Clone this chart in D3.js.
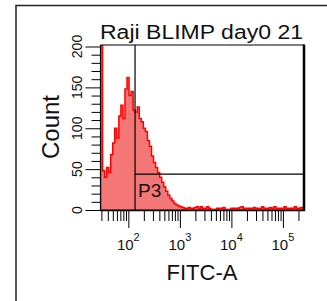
<!DOCTYPE html>
<html>
<head>
<meta charset="utf-8">
<script src="https://cdn.jsdelivr.net/npm/d3@7"></script>
<style>
  body { margin: 0; background: #fff; }
  svg text { font-family: "Liberation Sans", Arial, sans-serif; fill: #111; }
</style>
</head>
<body>
<svg id="chart" width="327" height="301"></svg>
<script>
// histogram counts per log bin (100 bins over the display range), first bin is off scale
const counts = [
  250, 48, 40, 52, 46, 68, 82, 100, 88, 115,
  128, 112, 148, 162, 140, 145, 122, 120, 126, 112,
  108, 100, 96, 85, 78, 66, 58, 52, 46, 40,
  34, 28, 23, 18, 14, 11, 8, 6, 5, 4,
  3, 2, 2, 3, 2, 2, 3, 4, 2, 4,
  2, 2, 4, 2, 1, 0, 1, 2, 2, 2,
  3, 1, 0, 1, 2, 2, 2, 2, 3, 4,
  2, 2, 2, 2, 2, 3, 2, 2, 2, 4,
  2, 2, 2, 3, 2, 4, 2, 2, 2, 2,
  4, 2, 2, 2, 2, 4, 2, 2, 3, 2
]
const xMin = Math.pow(10, 1.46)
const xMax = 262144
const xMajor = [100, 1000, 10000, 100000]
const xMinor = [30, 40, 50, 60, 70, 80, 90,
  200, 300, 400, 500, 600, 700, 800, 900,
  2000, 3000, 4000, 5000, 6000, 7000, 8000, 9000,
  20000, 30000, 40000, 50000, 60000, 70000, 80000, 90000, 200000]
const xLabelExp = ['2', '3', '4', '5']
const yMajor = [0, 50, 100, 150, 200]
const yMinor = [10, 20, 30, 40, 60, 70, 80, 90, 110, 120, 130, 140, 160, 170, 180, 190]
const title = 'Raji BLIMP day0 21'
const xTitle = 'FITC-A'
const yTitle = 'Count'
const gateName = 'P3'
const gateX = 135      // FITC-A value of the vertical marker
const gateY = 44       // count level of the P3 gate

const plot = { left: 100.5, right: 304, top: 45, bottom: 211 }

const svg = d3.select('#chart')

const xScale = d3.scaleLog().domain([xMin, xMax]).range([plot.left, plot.right + 0.5])
const yScale = d3.scaleLinear().domain([0, 200]).range([210, 46.5])

// outer frame of the panel
svg.append('path')
  .attr('d', 'M16,310 L16,5.5 L330,5.5')
  .attr('fill', 'none')
  .attr('stroke', '#222')
  .attr('stroke-width', 1.5)

svg.append('clipPath').attr('id', 'plotClip')
  .append('rect')
  .attr('x', plot.left).attr('y', plot.top)
  .attr('width', plot.right - plot.left).attr('height', plot.bottom - plot.top)

// bin edges in log space
const lo = Math.log10(xMin), hi = Math.log10(xMax)
const step = (hi - lo) / counts.length
const pts = []
counts.forEach((c, i) => {
  pts.push([Math.pow(10, lo + i * step), c])
  pts.push([Math.pow(10, lo + (i + 1) * step), c])
})

const area = d3.area()
  .x(d => xScale(d[0]))
  .y0(yScale(0))
  .y1(d => yScale(d[1]))

svg.append('g').attr('clip-path', 'url(#plotClip)')
  .append('path')
  .datum(pts)
  .attr('d', area)
  .attr('fill', 'rgb(245,118,118)')
  .attr('stroke', '#ff0000')
  .attr('stroke-width', 1.5)
  .attr('stroke-linejoin', 'miter')

// axes
const tickStyle = g => {
  g.select('.domain').remove()
  g.selectAll('line').attr('stroke', '#000').attr('stroke-width', 1)
}
svg.append('g')
  .attr('transform', `translate(${plot.left},0)`)
  .call(d3.axisLeft(yScale).tickValues(yMinor).tickSize(9).tickFormat(''))
  .call(tickStyle)
svg.append('g')
  .attr('transform', `translate(${plot.left},0)`)
  .call(d3.axisLeft(yScale).tickValues(yMajor).tickSize(15).tickFormat(''))
  .call(tickStyle)
svg.append('g')
  .attr('transform', `translate(0,${plot.bottom})`)
  .call(d3.axisBottom(xScale).tickValues(xMinor).tickSize(10).tickFormat(''))
  .call(tickStyle)
svg.append('g')
  .attr('transform', `translate(0,${plot.bottom})`)
  .call(d3.axisBottom(xScale).tickValues(xMajor).tickSize(17).tickFormat(''))
  .call(tickStyle)

// plot frame
svg.append('line').attr('x1', plot.left).attr('x2', plot.right).attr('y1', plot.top).attr('y2', plot.top)
  .attr('stroke', '#000').attr('stroke-width', 1.2)
svg.append('line').attr('x1', plot.left).attr('x2', plot.left).attr('y1', plot.top).attr('y2', plot.bottom)
  .attr('stroke', '#000').attr('stroke-width', 1.2)
svg.append('line').attr('x1', plot.left).attr('x2', plot.right + 1).attr('y1', plot.bottom - 0.5).attr('y2', plot.bottom - 0.5)
  .attr('stroke', '#000').attr('stroke-width', 1.6)
svg.append('line').attr('x1', plot.right).attr('x2', plot.right).attr('y1', plot.top - 0.5).attr('y2', plot.bottom)
  .attr('stroke', '#000').attr('stroke-width', 2.5)

// gate marker and P3 region
svg.append('line')
  .attr('x1', xScale(gateX)).attr('x2', xScale(gateX))
  .attr('y1', plot.top).attr('y2', plot.bottom)
  .attr('stroke', '#000').attr('stroke-width', 1.2)
svg.append('line')
  .attr('x1', xScale(gateX)).attr('x2', plot.right)
  .attr('y1', yScale(gateY)).attr('y2', yScale(gateY))
  .attr('stroke', '#000').attr('stroke-width', 1.2)
svg.append('text')
  .attr('x', xScale(gateX) + 3).attr('y', yScale(gateY) + 23)
  .style('font-size', '19px')
  .text(gateName)

// y tick labels, rotated like the instrument export
svg.selectAll('.ylab')
  .data(yMajor)
  .join('text')
  .attr('class', 'ylab')
  .attr('transform', d => `translate(82,${yScale(d)}) rotate(-90)`)
  .style('font-size', '14px')
  .style('text-anchor', 'middle')
  .text(d => d)

// x tick labels 10^n
const xl = svg.selectAll('.xlab')
  .data(xMajor)
  .join('text')
  .attr('class', 'xlab')
  .attr('x', d => xScale(d))
  .attr('y', 250)
  .style('font-size', '15px')
  .style('text-anchor', 'middle')
xl.append('tspan').text('10')
xl.append('tspan')
  .attr('dy', -9)
  .style('font-size', '11px')
  .text((d, i) => xLabelExp[i])

// titles
svg.append('text')
  .attr('x', 100).attr('y', 39)
  .attr('textLength', 203)
  .attr('lengthAdjust', 'spacingAndGlyphs')
  .style('font-size', '20px')
  .text(title)

svg.append('text')
  .attr('x', 202).attr('y', 280)
  .style('font-size', '22px')
  .style('text-anchor', 'middle')
  .text(xTitle)

svg.append('text')
  .attr('transform', 'translate(59,127) rotate(-90)')
  .style('font-size', '24px')
  .style('text-anchor', 'middle')
  .text(yTitle)
</script>
</body>
</html>
